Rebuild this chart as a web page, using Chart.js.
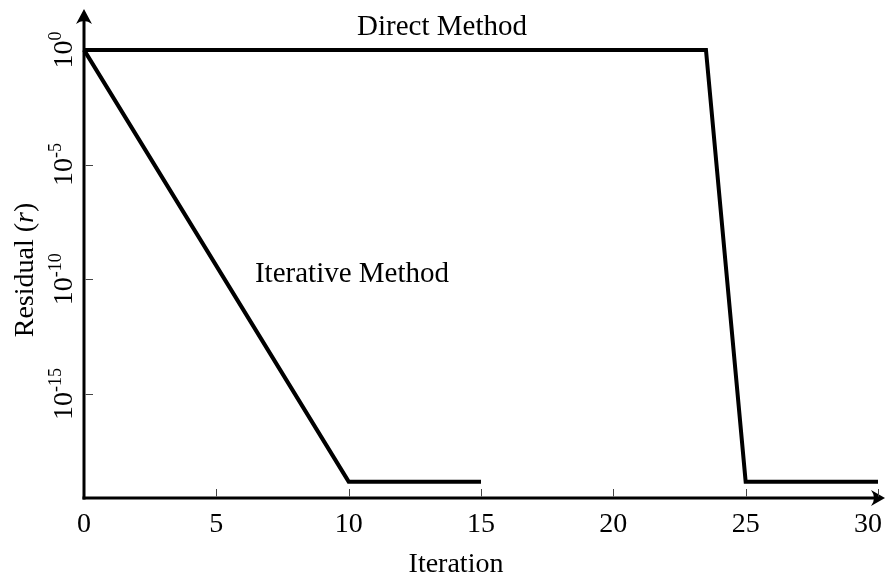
<!DOCTYPE html>
<html>
<head>
<meta charset="utf-8">
<script src="https://cdn.jsdelivr.net/npm/chart.js@4/dist/chart.umd.min.js"></script>
<style>
  html, body { margin: 0; padding: 0; background: #fff; }
  #wrap { width: 886px; height: 579px; position: relative; }
</style>
</head>
<body>
<div id="wrap"><canvas id="residualChart"></canvas></div>
<script>
// x ticks (iterations) and y ticks (powers of ten)
const iterationTicks = [0, 5, 10, 15, 20, 25, 30];
const residualExponents = [0, -5, -10, -15];

// Direct method: stays at 1 until it solves, then drops to machine floor
const directIter = [0, 23.5, 25, 30];
const directResidual = [1, 1, 1.5e-19, 1.5e-19];

// Iterative method: steady decrease, then floor
const iterativeIter = [0, 10, 15];
const iterativeResidual = [1, 1.5e-19, 1.5e-19];

const SERIF = '"Liberation Serif", "Times New Roman", serif';

const toPoints = (xs, ys) => xs.map((x, i) => ({ x: x, y: ys[i] }));

// axes, arrows, ticks and all the text
const axisPlugin = {
  id: "axisPlugin",
  beforeDatasetsDraw(chart) {
    const { ctx, chartArea } = chart;
    const xs = chart.scales.x;
    const ys = chart.scales.y;
    const x0 = chartArea.left;
    const y0 = chartArea.bottom;
    const W = chart.width;

    ctx.save();
    ctx.strokeStyle = "#000";
    ctx.fillStyle = "#000";
    ctx.lineWidth = 3;
    ctx.lineCap = "butt";

    // y axis
    ctx.beginPath();
    ctx.moveTo(x0, y0 + 1.5);
    ctx.lineTo(x0, 18);
    ctx.stroke();
    // x axis
    ctx.beginPath();
    ctx.moveTo(x0 - 1.5, y0);
    ctx.lineTo(W - 8, y0);
    ctx.stroke();

    // arrow heads
    ctx.beginPath();
    ctx.moveTo(x0, 9);
    ctx.lineTo(x0 + 8, 24);
    ctx.quadraticCurveTo(x0, 18, x0 - 8, 24);
    ctx.closePath();
    ctx.fill();

    ctx.beginPath();
    ctx.moveTo(W - 1, y0);
    ctx.lineTo(W - 15, y0 - 8);
    ctx.quadraticCurveTo(W - 9, y0, W - 15, y0 + 8);
    ctx.closePath();
    ctx.fill();

    // tick marks
    ctx.lineWidth = 1;
    ctx.strokeStyle = "#444";
    iterationTicks.forEach((t) => {
      if (t === 0) return;
      const px = Math.round(xs.getPixelForValue(t)) + 0.5;
      ctx.beginPath();
      ctx.moveTo(px, y0 - 1.5);
      ctx.lineTo(px, y0 - 9);
      ctx.stroke();
    });
    residualExponents.forEach((e) => {
      const py = Math.round(ys.getPixelForValue(Math.pow(10, e))) + 0.5;
      ctx.beginPath();
      ctx.moveTo(x0 + 1.5, py);
      ctx.lineTo(x0 + 9, py);
      ctx.stroke();
    });
    ctx.restore();
  },
  afterDraw(chart) {
    const { ctx, chartArea } = chart;
    const xs = chart.scales.x;
    const ys = chart.scales.y;
    const W = chart.width;

    ctx.save();
    ctx.fillStyle = "#000";
    ctx.textBaseline = "alphabetic";

    // x tick labels
    ctx.font = "28px " + SERIF;
    ctx.textAlign = "center";
    iterationTicks.forEach((t) => {
      const label = String(t);
      const w = ctx.measureText(label).width;
      let px = xs.getPixelForValue(t);
      px = Math.min(px, W - w / 2 - 4);
      ctx.fillText(label, px, 532);
    });

    // x title
    ctx.font = "28px " + SERIF;
    ctx.fillText("Iteration", 456, 572);

    // y tick labels, rotated, with superscript exponent
    residualExponents.forEach((e) => {
      const py = ys.getPixelForValue(Math.pow(10, e));
      const base = "10";
      const sup = String(e);
      ctx.font = "28px " + SERIF;
      const wb = ctx.measureText(base).width;
      ctx.font = "18px " + SERIF;
      const ws = ctx.measureText(sup).width;
      const start = -(wb + ws) / 2;
      ctx.save();
      ctx.translate(72, py);
      ctx.rotate(-Math.PI / 2);
      ctx.textAlign = "left";
      ctx.font = "28px " + SERIF;
      ctx.fillText(base, start, 0);
      ctx.font = "18px " + SERIF;
      ctx.fillText(sup, start + wb, -11);
      ctx.restore();
    });

    // y title: Residual (r) with italic r
    const parts = [
      { t: "Residual (", f: "28px " + SERIF },
      { t: "r", f: "italic 28px " + SERIF },
      { t: ")", f: "28px " + SERIF },
    ];
    let total = 0;
    parts.forEach((p) => { ctx.font = p.f; p.w = ctx.measureText(p.t).width; total += p.w; });
    ctx.save();
    ctx.translate(33, 270);
    ctx.rotate(-Math.PI / 2);
    ctx.textAlign = "left";
    let cx = -total / 2;
    parts.forEach((p) => { ctx.font = p.f; ctx.fillText(p.t, cx, 0); cx += p.w; });
    ctx.restore();

    // series annotations
    ctx.font = "29px " + SERIF;
    ctx.textAlign = "center";
    ctx.fillText("Direct Method", 442, 35);
    ctx.fillText("Iterative Method", 352, 282);

    ctx.restore();
  },
};

const ctx = document.getElementById("residualChart").getContext("2d");

new Chart(ctx, {
  type: "line",
  data: {
    datasets: [
      {
        label: "Direct Method",
        data: toPoints(directIter, directResidual),
        borderColor: "#000",
        borderWidth: 4,
        pointRadius: 0,
        fill: false,
        tension: 0,
        clip: false,
      },
      {
        label: "Iterative Method",
        data: toPoints(iterativeIter, iterativeResidual),
        borderColor: "#000",
        borderWidth: 4,
        pointRadius: 0,
        fill: false,
        tension: 0,
        clip: false,
      },
    ],
  },
  options: {
    responsive: true,
    maintainAspectRatio: false,
    animation: false,
    layout: { padding: { left: 84, right: 8, top: 12, bottom: 81 } },
    plugins: {
      legend: { display: false },
      tooltip: { enabled: false },
    },
    scales: {
      x: {
        type: "linear",
        min: 0,
        max: 30,
        display: false,
      },
      y: {
        type: "logarithmic",
        min: 2.9e-20,
        max: 45,
        display: false,
      },
    },
  },
  plugins: [axisPlugin],
});
</script>
</body>
</html>
